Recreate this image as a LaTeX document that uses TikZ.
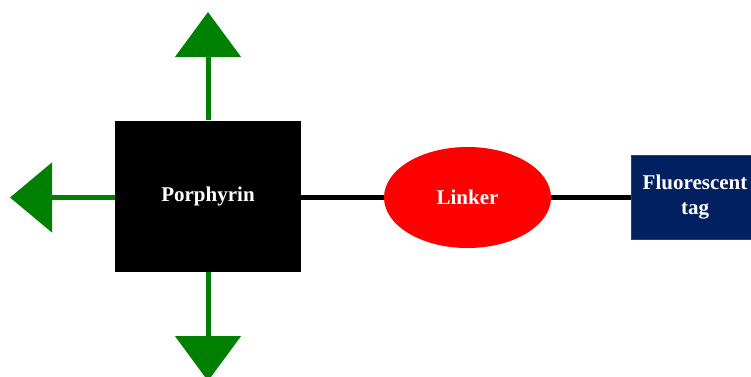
\documentclass[tikz,border=0pt]{standalone}
\usepackage{fontspec}
\setmainfont{Liberation Serif}
\usetikzlibrary{arrows.meta,shapes.geometric}
\definecolor{arrgreen}{HTML}{008000}
\definecolor{tagnavy}{HTML}{002060}
\begin{document}
\begin{tikzpicture}[x=1pt,y=-1pt,
  lbl/.style={text=white,font=\fontsize{21}{25}\selectfont\bfseries,align=center},
  garrow/.style={draw=arrgreen,line width=5pt},
  link/.style={draw=black,line width=5pt}]
\clip (0,0) rectangle (751,376);
\fill[white] (0,0) rectangle (751,376);
\node[lbl,fill=black,minimum width=186pt,minimum height=151pt,inner sep=0pt] (por) at (208,196) {Porphyrin};
\node[lbl,ellipse,fill=red,minimum width=167pt,minimum height=101pt,inner sep=0pt] (lnk) at (467.5,197.5) {Linker};
\node[lbl,fill=tagnavy,draw=tagnavy!85!white,line width=1pt,minimum width=128pt,minimum height=84pt,inner sep=0pt] (tag) at (695,197) {Fluorescent\\tag};
\coordinate (upt) at (208,12);
\coordinate (dnt) at (208,381);
\coordinate (lft) at (10,197.5);
\draw[garrow,-{Triangle[length=45pt,width=65pt]}] (por.north) -- (upt);
\draw[garrow,-{Triangle[length=45pt,width=65pt]}] (por.south) -- (dnt);
\draw[garrow,-{Triangle[length=42pt,width=69pt]}] (por.west |- lft) -- (lft);
\draw[link] (por.east |- lnk.west) -- (lnk.west);
\draw[link] (lnk.east) -- (tag.west |- lnk.east);
\end{tikzpicture}
\end{document}
